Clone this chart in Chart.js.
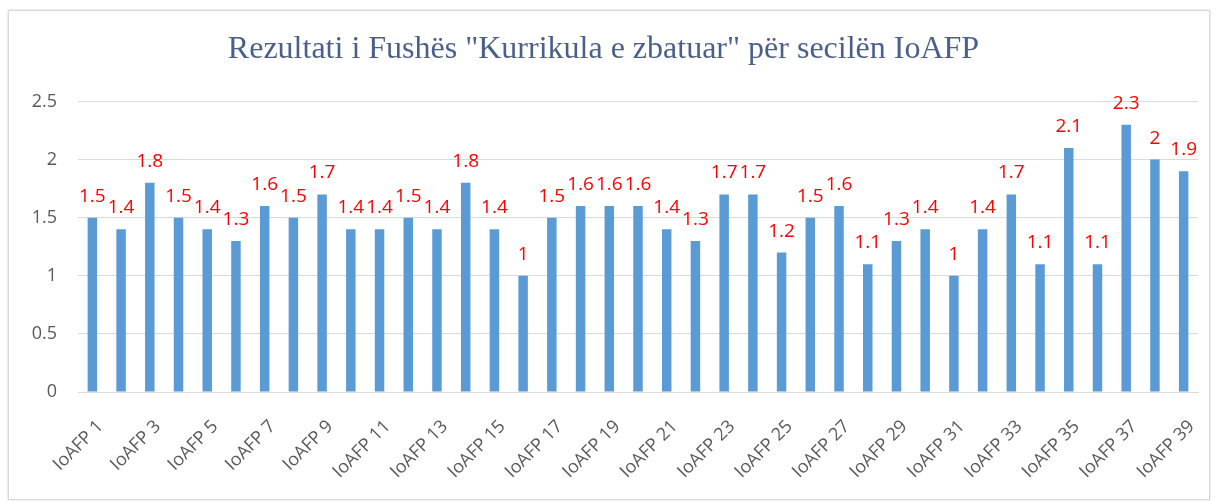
<!DOCTYPE html>
<html>
<head>
<meta charset="utf-8">
<script src="https://cdn.jsdelivr.net/npm/chart.js@4.4.0/dist/chart.umd.min.js"></script>
<style>
  body { margin: 0; background: #fff; }
  #box {
    position: absolute; left: 8px; top: 10px; width: 1200px; height: 488px;
    border: 1px solid #d9d9d9; box-shadow: 0 0 2px #ccc; background: #fff;
  }
  #box canvas { display: block; }
</style>
</head>
<body>
<div id="box"><canvas id="rezultatiChart" width="1200" height="488"></canvas></div>
<script>
const titleText = 'Rezultati i Fushës "Kurrikula e zbatuar" për secilën IoAFP';
const categories = [];
for (let i = 1; i <= 39; i++) categories.push('IoAFP ' + i);
const values = [1.5, 1.4, 1.8, 1.5, 1.4, 1.3, 1.6, 1.5, 1.7, 1.4,
                1.4, 1.5, 1.4, 1.8, 1.4, 1, 1.5, 1.6, 1.6, 1.6,
                1.4, 1.3, 1.7, 1.7, 1.2, 1.5, 1.6, 1.1, 1.3, 1.4,
                1, 1.4, 1.7, 1.1, 2.1, 1.1, 2.3, 2, 1.9];
const yTicks = [0, 0.5, 1, 1.5, 2, 2.5];

// value labels above each bar
const valueLabels = {
    id: 'valueLabels',
    afterDatasetsDraw(chart) {
        const ctx = chart.ctx;
        const meta = chart.getDatasetMeta(0);
        ctx.save();
        ctx.fillStyle = '#ff0000';
        ctx.font = '19px "Open Sans", sans-serif';
        ctx.textAlign = 'center';
        ctx.textBaseline = 'alphabetic';
        meta.data.forEach(function(bar, i) {
            ctx.fillText(String(values[i]), bar.x, bar.y - 16);
        });
        ctx.restore();
    }
};

document.addEventListener('DOMContentLoaded', function() {
    const ctx = document.getElementById('rezultatiChart').getContext('2d');
    new Chart(ctx, {
        type: 'bar',
        data: {
            labels: categories,
            datasets: [{
                data: values,
                backgroundColor: '#5b9bd5',
                barPercentage: 0.33,
                categoryPercentage: 1
            }]
        },
        options: {
            responsive: false,
            animation: false,
            layout: { padding: { left: 0, right: 11, top: 0, bottom: 0 } },
            plugins: {
                legend: { display: false },
                tooltip: { enabled: false },
                title: {
                    display: true,
                    text: titleText,
                    color: '#4a5f8c',
                    font: { family: '"Liberation Serif", serif', size: 32, weight: 'normal', lineHeight: 1.2 },
                    padding: { top: 19, bottom: 33 }
                }
            },
            scales: {
                x: {
                    afterFit: function(scale) {
                        scale.height = 107;
                        scale.paddingLeft = 0;
                        scale.paddingRight = 0;
                    },
                    grid: { display: false },
                    border: { color: '#d9d9d9' },
                    ticks: {
                        autoSkip: false,
                        maxRotation: 45,
                        minRotation: 45,
                        padding: 16,
                        labelOffset: 8,
                        color: '#595959',
                        font: { family: '"Open Sans", sans-serif', size: 18 },
                        callback: function(v, i) { return i % 2 === 0 ? categories[i] : ''; }
                    }
                },
                y: {
                    min: 0,
                    max: 2.5,
                    afterFit: function(scale) { scale.width = 69; },
                    afterBuildTicks: function(axis) {
                        axis.ticks = yTicks.map(function(v) { return { value: v }; });
                    },
                    grid: { color: '#d9d9d9', drawTicks: false },
                    border: { display: false },
                    ticks: {
                        padding: 21,
                        color: '#595959',
                        font: { family: '"Open Sans", sans-serif', size: 18 },
                        callback: function(v) { return String(v); }
                    }
                }
            }
        },
        plugins: [valueLabels]
    });
});
</script>
</body>
</html>
